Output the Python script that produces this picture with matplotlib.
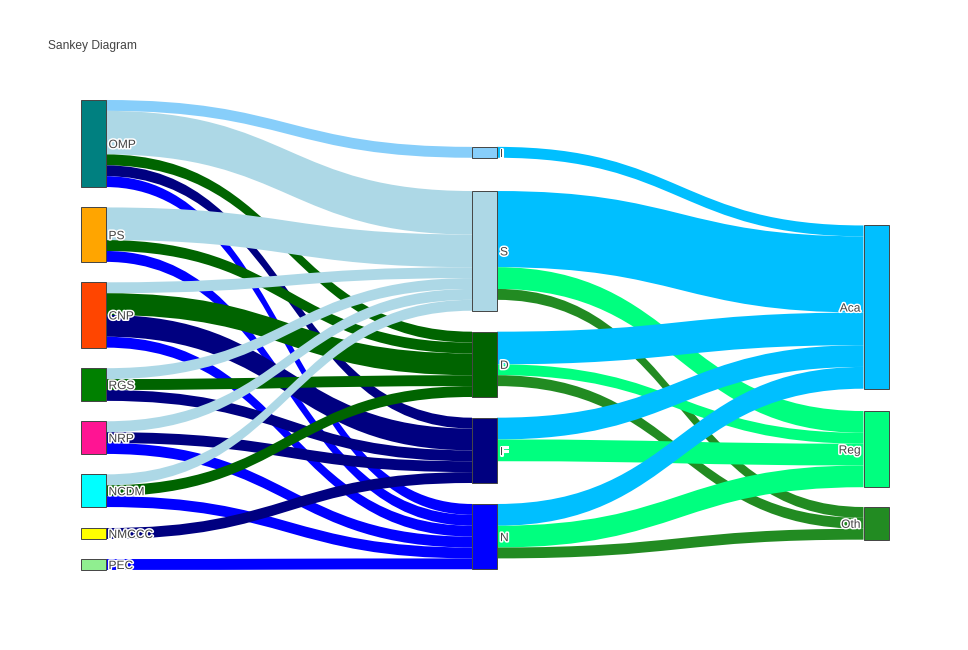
import matplotlib
matplotlib.use("Agg")
import matplotlib.pyplot as plt
from matplotlib.path import Path
from matplotlib.patches import PathPatch, Rectangle
import matplotlib.patheffects as pe

plt.rcParams['font.family'] = ['Liberation Sans', 'DejaVu Sans']

# nodes
labels = ["OMP", "PS", "CNP", "RGS", "NRP", "NCDM", "NMCCC", "PEC",
          "I", "S", "D", "F", "N",
          "Aca", "Reg", "Oth"]
node_colors = ["#008080", "#FFA500", "#FF4500", "#008000", "#FF1493", "#00FFFF", "#FFFF00", "#90EE90",
               "#87CEFA", "#ADD8E6", "#006400", "#000080", "#0000FF",
               "#00BFFF", "#00FF7F", "#228B22"]

# links (source index, target index, value)
sources = [0, 0, 0, 0, 0,
           1, 1, 1,
           2, 2, 2, 2,
           3, 3, 3,
           4, 4, 4,
           5, 5, 5,
           6,
           7,
           8,
           9, 9, 9,
           10, 10, 10,
           11, 11,
           12, 12, 12]
targets = [8, 9, 10, 11, 12,
           9, 10, 12,
           9, 10, 11, 12,
           9, 10, 11,
           9, 11, 12,
           9, 10, 12,
           11,
           12,
           13,
           13, 14, 15,
           13, 14, 15,
           13, 14,
           13, 14, 15]
values = [1, 4, 1, 1, 1,
          3, 1, 1,
          1, 2, 2, 1,
          1, 1, 1,
          1, 1, 1,
          1, 1, 1,
          1,
          1,
          1,
          7, 2, 1,
          3, 1, 1,
          2, 2,
          2, 2, 1]

# node arrangement (like plotly node.x / node.y)
node_x = [0.0] * 8 + [0.5] * 5 + [1.0] * 3
node_y = [0.0926, 0.2865, 0.4574, 0.6054, 0.7183, 0.8313, 0.9223, 0.9883,
          0.1113, 0.3210, 0.5624, 0.7454, 0.9290,
          0.4406, 0.7428, 0.9007]

W, H = 968, 650
L, R, T, B = 80, 80, 100, 80
pw, ph = W - L - R, H - T - B
node_w = 25
pad = 20.5
scale = (ph - 7 * pad) / 30.0

n = len(labels)
inflow = [0] * n
outflow = [0] * n
for s, t, v in zip(sources, targets, values):
    outflow[s] += v
    inflow[t] += v
size = [max(a, b) for a, b in zip(inflow, outflow)]

xl = [L + fx * (pw - node_w) + 0.5 for fx in node_x]
yc = [T + fy * ph for fy in node_y]
ytop = [c - size[i] * scale / 2 for i, c in enumerate(yc)]

fig = plt.figure(figsize=(W / 100, H / 100), dpi=100)
ax = fig.add_axes([0, 0, 1, 1])
ax.set_xlim(0, W)
ax.set_ylim(H, 0)
ax.axis("off")

# offsets of links at each node
order = list(range(len(values)))
src_off = {}
off = [0.0] * n
for k in sorted(order, key=lambda k: (sources[k], yc[targets[k]])):
    src_off[k] = off[sources[k]]
    off[sources[k]] += values[k] * scale
tgt_off = {}
off = [0.0] * n
for k in sorted(order, key=lambda k: (targets[k], yc[sources[k]])):
    tgt_off[k] = off[targets[k]]
    off[targets[k]] += values[k] * scale

for k in order:
    s, t = sources[k], targets[k]
    w = values[k] * scale
    x0 = xl[s] + node_w
    x1 = xl[t]
    y0 = ytop[s] + src_off[k]
    y1 = ytop[t] + tgt_off[k]
    xm = (x0 + x1) / 2
    verts = [(x0, y0), (xm, y0), (xm, y1), (x1, y1),
             (x1, y1 + w),
             (xm, y1 + w), (xm, y0 + w), (x0, y0 + w),
             (x0, y0)]
    codes = [Path.MOVETO, Path.CURVE4, Path.CURVE4, Path.CURVE4,
             Path.LINETO,
             Path.CURVE4, Path.CURVE4, Path.CURVE4,
             Path.CLOSEPOLY]
    ax.add_patch(PathPatch(Path(verts, codes), facecolor=node_colors[t],
                           edgecolor="none", lw=0, zorder=1))

stroke = [pe.withStroke(linewidth=2.2, foreground="white")]
for i in range(n):
    ax.add_patch(Rectangle((xl[i], ytop[i]), node_w, size[i] * scale,
                           facecolor=node_colors[i], edgecolor="#444444",
                           lw=0.7, zorder=2))
    if node_x[i] < 1.0:
        ax.text(xl[i] + node_w + 3, yc[i] + 1.5, labels[i], ha="left", va="center",
                fontsize=8.64, color="#444444", zorder=3, path_effects=stroke)
    else:
        ax.text(xl[i] - 3, yc[i] + 1.5, labels[i], ha="right", va="center",
                fontsize=8.64, color="#444444", zorder=3, path_effects=stroke)

ax.text(48, 46.5, "Sankey Diagram", ha="left", va="center",
        fontsize=8.64, color="#444444")

fig.savefig("out.png", dpi=100)
